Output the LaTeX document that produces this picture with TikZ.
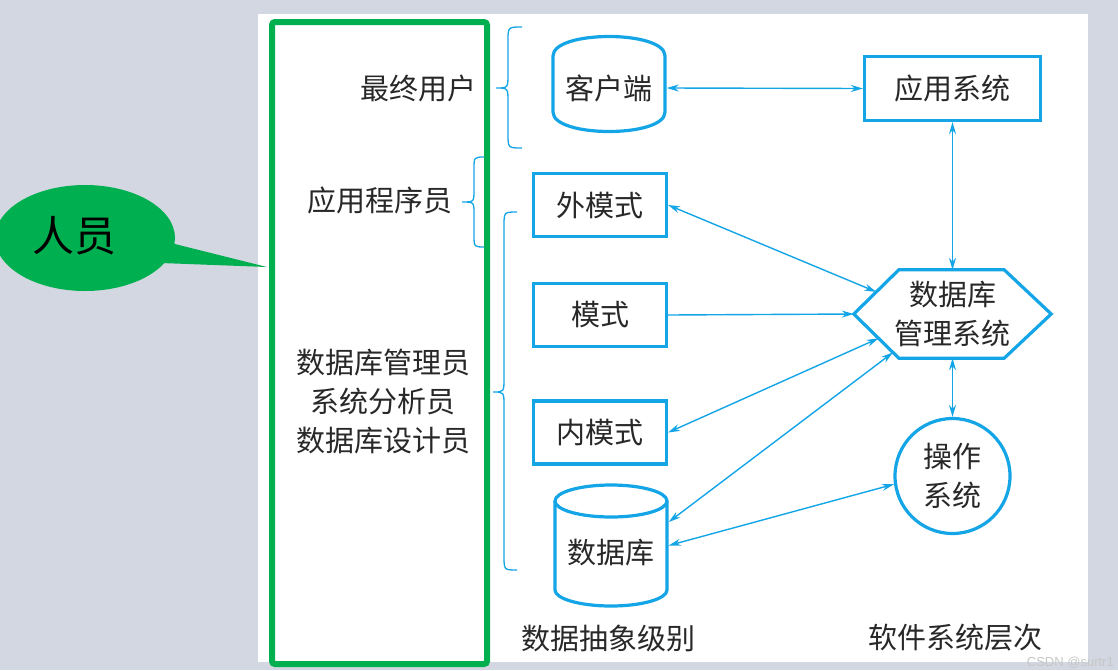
\documentclass[tikz,border=0pt]{standalone}
\usepackage{fontspec}
\newfontfamily\cjk{Noto Sans CJK SC}
\newfontfamily\wmfont{Liberation Sans}
\usetikzlibrary{arrows.meta,calc}
\definecolor{cy}{RGB}{20,165,230}
\definecolor{gr}{RGB}{0,176,80}
\definecolor{bg}{RGB}{211,215,226}
\definecolor{tx}{RGB}{40,40,40}
\begin{document}
\begin{tikzpicture}[x=1pt,y=-1pt,
  txt/.style={font=\cjk\fontsize{29}{39}\selectfont, text=tx, inner sep=0pt, align=center},
  box/.style={draw=cy, line width=3.2pt, inner sep=0pt, minimum width=133pt, minimum height=63pt},
  shapeline/.style={draw=cy, line width=3.2pt},
  conn/.style={cy, line width=1.4pt, {Stealth[length=12pt,width=7pt]}-{Stealth[length=12pt,width=7pt]}},
  oneway/.style={cy, line width=1.4pt, -{Stealth[length=12pt,width=7pt]}},
  bracepath/.style={cy, line width=1.3pt},
]
\useasboundingbox (0,0) rectangle (1118,670);
\fill[bg] (0,0) rectangle (1118,670);
\fill[white] (258,14) rectangle (1088,662);

% callout
\fill[gr] (85,238) ellipse [x radius=90pt, y radius=53pt];
\fill[gr] (171,243) -- (267,267) -- (161,263) -- cycle;
\node[font=\cjk\fontsize{42}{42}\selectfont, text=black, inner sep=0pt] (person) at (74,236) {人员};

% braces
\draw[bracepath] (522,27) .. controls (508,27) .. (508,41) -- (508,74) .. controls (508,88) .. (496,88) .. controls (508,88) .. (508,102) -- (508,134) .. controls (508,148) .. (522,148);
\draw[bracepath] (485,157) .. controls (474,157) .. (474,169) -- (474,190) .. controls (474,202) .. (462,202) .. controls (474,202) .. (474,214) -- (474,235) .. controls (474,247) .. (485,247);
\draw[bracepath] (517,212) .. controls (504,212) .. (504,226) -- (504,378) .. controls (504,392) .. (493,392) .. controls (504,392) .. (504,406) -- (504,556) .. controls (504,570) .. (517,570);

% green frame
\draw[gr, line width=6pt, rounded corners=3pt] (272,22) rectangle (487,664);

% left labels
\node[txt] (lusers) at (418,88) {最终用户};
\node[txt] (lprog) at (380,200) {应用程序员};
\node[txt] (ldba) at (383,401) {数据库管理员\\系统分析员\\数据库设计员};

% client cylinder (barrel)
\draw[shapeline] (553,112) -- (553,56) .. controls (553,30) and (665,30) .. (665,56) -- (665,112) .. controls (665,138) and (553,138) .. (553,112) -- cycle;
\node[txt, minimum width=115pt, minimum height=98pt] (client) at (609,88) {客户端};

% boxes
\node[txt, box, minimum width=176pt, minimum height=64pt] (app) at (952.5,88.5) {应用系统};
\node[txt, box] (ext) at (600,205) {外模式};
\node[txt, box] (model) at (600,315) {模式};
\node[txt, box] (int) at (600,432.5) {内模式};

% DBMS hexagon
\node[txt, minimum width=197pt, minimum height=88pt] (dbms) at (952.5,314) {数据库\\管理系统};
\draw[shapeline, line join=miter] (dbms.west) -- ([xshift=45pt]dbms.north west) -- ([xshift=-47pt]dbms.north east) -- (dbms.east) -- ([xshift=-47pt]dbms.south east) -- ([xshift=45pt]dbms.south west) -- cycle;
\coordinate (hxul) at ($(dbms.west)!0.5!([xshift=45pt]dbms.north west)$);
\coordinate (hxll) at ($(dbms.west)!0.55!([xshift=45pt]dbms.south west)$);
\coordinate (hxll2) at ($(dbms.west)!0.87!([xshift=45pt]dbms.south west)$);

% OS circle
\node[txt, circle, draw=cy, line width=3.2pt, minimum size=115pt] (os) at (952.5,476) {操作\\系统};

% database cylinder
\draw[shapeline] (555,501) -- (555,590) .. controls (555,598.8) and (580.1,606) .. (611,606) .. controls (641.9,606) and (667,598.8) .. (667,590) -- (667,501);
\draw[shapeline] (611,501) ellipse [x radius=56pt, y radius=16pt];
\node[minimum width=115pt, minimum height=121pt, inner sep=0pt] (db) at (611,545.5) {};
\node[txt] (dbl) at (611,553) {数据库};

% connectors
\draw[conn] (client.east) -- (app.west);
\draw[conn] (app.south) -- (dbms.north);
\draw[conn] (ext.east) -- (hxul);
\draw[oneway] (model.east) -- (dbms.west);
\draw[conn] (hxll) -- (int.east);
\draw[conn] (hxll2) -- ([yshift=23.5pt]db.east);
\draw[conn] (os.188) -- (db.east);
\draw[conn] (dbms.south) -- (os.north);

% bottom labels
\node[txt] (lab1) at (608,638) {数据抽象级别};
\node[txt] (lab2) at (955,638) {软件系统层次};

% watermark
\node[font=\wmfont\fontsize{13}{13}\selectfont, text=gray!45, inner sep=0pt, anchor=east] (wm) at (1114,663) {CSDN @surtr1};
\end{tikzpicture}
\end{document}
